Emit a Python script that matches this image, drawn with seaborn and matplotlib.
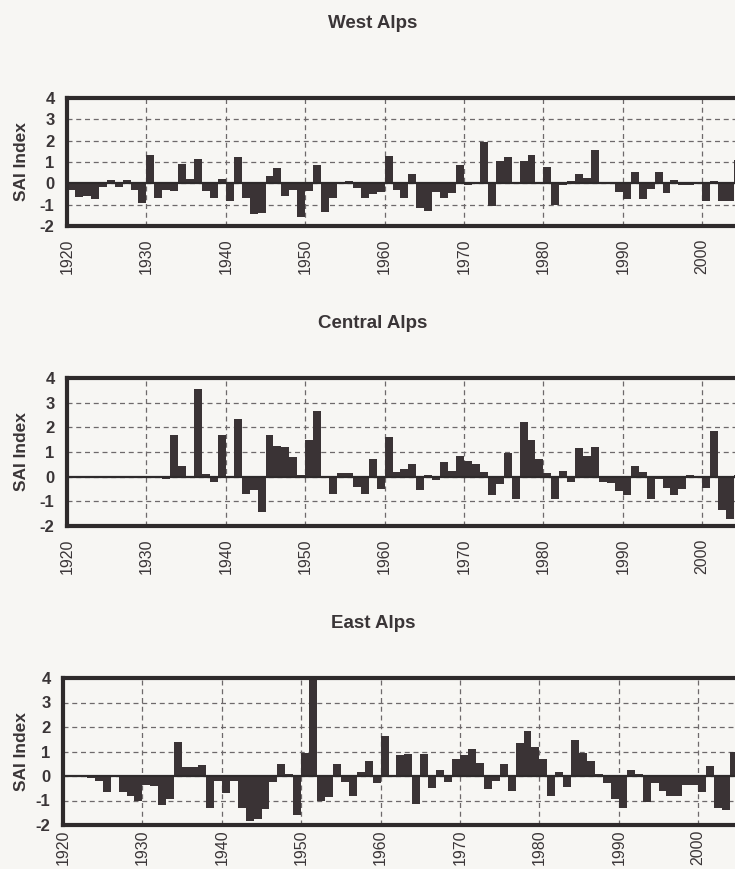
import matplotlib
matplotlib.use("Agg")
import matplotlib.pyplot as plt
import pandas as pd
import seaborn as sns

# ---------------------------------------------------------------
# data: SAI index per year
# ---------------------------------------------------------------
YEARS = list(range(1920, 2005))

WEST = [
    -0.3, -0.63, -0.6, -0.75, -0.15, 0.15, -0.15, 0.15, -0.3, -0.9,      # 1920s
    1.35, -0.7, -0.3, -0.35, 0.9, 0.2, 1.15, -0.35, -0.7, 0.2,           # 1930s
    -0.85, 1.25, -0.7, -1.45, -1.4, 0.35, 0.7, -0.6, -0.3, -1.6,         # 1940s
    -0.35, 0.85, -1.35, -0.7, -0.05, 0.1, -0.2, -0.7, -0.5, -0.4,        # 1950s
    1.3, -0.3, -0.7, 0.45, -1.15, -1.3, -0.4, -0.7, -0.45, 0.85,         # 1960s
    -0.1, 0.05, 1.95, -1.05, 1.05, 1.25, 0.05, 1.05, 1.35, 0.02,         # 1970s
    0.75, -1.0, -0.1, 0.1, 0.45, 0.25, 1.55, 0.02, 0.0, -0.4,            # 1980s
    -0.75, 0.55, -0.75, -0.25, 0.55, -0.45, 0.15, -0.1, -0.1, 0.0,       # 1990s
    -0.85, 0.1, -0.85, -0.85, 1.1,                                       # 2000s
]

CENTRAL = [
    0, 0, 0, 0, 0, 0, 0, 0, 0, 0,
    0, 0, -0.1, 1.7, 0.45, -0.05, 3.55, 0.1, -0.2, 1.7,
    -0.02, 2.35, -0.7, -0.55, -1.45, 1.7, 1.25, 1.2, 0.8, 0.05,
    1.5, 2.65, -0.02, -0.7, 0.15, 0.15, -0.4, -0.7, 0.7, -0.5,
    1.6, 0.2, 0.3, 0.5, -0.55, 0.08, -0.15, 0.6, 0.25, 0.85,
    0.65, 0.5, 0.2, -0.75, -0.3, 0.95, -0.9, 2.2, 1.5, 0.7,
    0.15, -0.9, 0.25, -0.2, 1.15, 0.85, 1.2, -0.2, -0.25, -0.6,
    -0.75, 0.45, 0.2, -0.9, -0.1, -0.45, -0.75, -0.5, 0.05, -0.02,
    -0.45, 1.85, -1.35, -1.7, 0.05,
]

EAST = [
    0, 0, 0, -0.1, -0.2, -0.65, 0, -0.65, -0.8, -1.0,
    -0.35, -0.4, -1.2, -0.95, 1.4, 0.35, 0.35, 0.45, -1.3, -0.2,
    -0.7, -0.2, -1.3, -1.85, -1.75, -1.35, -0.25, 0.5, 0.1, -1.6,
    0.95, 4.0, -1.0, -0.85, 0.5, -0.25, -0.8, 0.15, 0.6, -0.3,
    1.65, -0.05, 0.85, 0.9, -1.15, 0.9, -0.5, 0.25, -0.25, 0.7,
    0.85, 1.1, 0.55, -0.55, -0.2, 0.5, -0.6, 1.35, 1.85, 1.2,
    0.7, -0.8, 0.15, -0.45, 1.45, 0.95, 0.6, 0.1, -0.3, -0.95,
    -1.3, 0.25, 0.1, -1.05, -0.3, -0.6, -0.8, -0.8, -0.35, -0.35,
    -0.65, 0.4, -1.3, -1.4, 1.0,
]

TITLES = ['West Alps', 'Central Alps', 'East Alps']
DECADES = [1920, 1930, 1940, 1950, 1960, 1970, 1980, 1990, 2000]
Y_TICKS = [-2, -1, 0, 1, 2, 3, 4]

# ---------------------------------------------------------------
# style
# ---------------------------------------------------------------
BAR = '#3a3335'
FRAME = '#2e2a2b'
GRID = '#6e696b'
INK = '#3a3537'
PAPER = '#f7f6f3'

W, H = 735, 869
PX_PER_YEAR = 7.94
# left, top, bottom of each plot box, title y and x-label pad (pt)
PANELS = [(67, 98, 226, 23, 9), (67, 378, 526, 323, 9), (63, 678, 825, 623, 3)]

sns.set_style('white')
plt.rcParams['font.family'] = ['Liberation Sans', 'DejaVu Sans']

fig = plt.figure(figsize=(W / 100, H / 100), dpi=100, facecolor=PAPER)

for (left, top, bottom, ty, xpad), title, vals in zip(PANELS, TITLES, [WEST, CENTRAL, EAST]):
    ax = fig.add_axes([left / W, 1 - bottom / H, 1 - left / W, (bottom - top) / H])
    ax.set_facecolor('none')
    df = pd.DataFrame({'year': YEARS, 'sai': vals})
    sns.barplot(data=df, x='year', y='sai', color=BAR, saturation=1,
                width=1.0, linewidth=0, errorbar=None, ax=ax, zorder=2)

    ax.set_xlim(-0.5, -0.5 + (W - left) / PX_PER_YEAR)
    ax.set_ylim(-2, 4)
    ax.set_xticks([d - YEARS[0] - 0.5 for d in DECADES])
    ax.set_xticklabels([str(d) for d in DECADES], rotation=90,
                       fontsize=11.5, color=INK)
    ax.set_yticks(Y_TICKS)
    ax.set_yticklabels([str(t) for t in Y_TICKS], fontsize=12,
                       fontweight='bold', color=INK)
    ax.set_xlabel('')
    ax.set_ylabel('')

    ax.tick_params(axis='x', length=0, pad=xpad)
    ax.tick_params(axis='y', length=4, width=1.5, color=FRAME, pad=5)

    ax.set_axisbelow(True)
    ax.grid(True, ls=(0, (4, 3)), lw=0.9, color=GRID)
    ax.axhline(0, color=FRAME, lw=1.6, zorder=3)

    for side in ['top', 'bottom', 'left']:
        ax.spines[side].set_linewidth(3)
        ax.spines[side].set_color(FRAME)
    ax.spines['right'].set_visible(False)

    fig.text(373 / W, 1 - ty / H, title, ha='center', va='center',
             fontsize=13.5, fontweight='bold', color=INK)
    fig.text(22 / W, 1 - (top + bottom) / 2 / H, 'SAI Index', rotation=90,
             ha='center', va='center', fontsize=12.5, fontweight='bold', color=INK)

fig.savefig('out.png', dpi=100, facecolor=PAPER)
